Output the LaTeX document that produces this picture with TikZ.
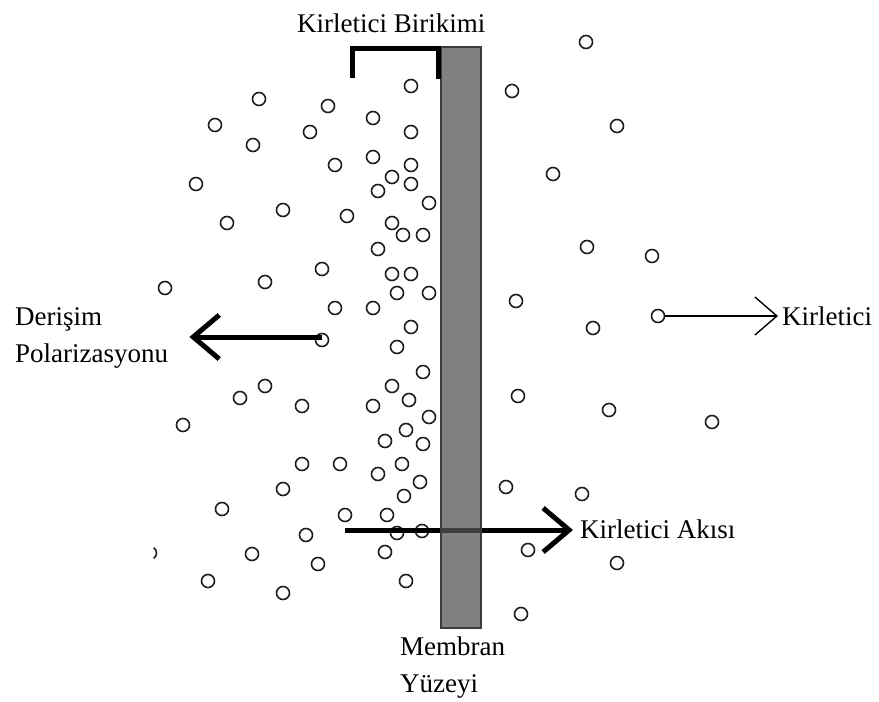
\documentclass[tikz,border=0pt]{standalone}
\usepackage{fontspec}
\setmainfont{Liberation Serif}
\usepackage{xcolor}
\usepackage{tikz}
\usetikzlibrary{arrows.meta}
\definecolor{membranegray}{RGB}{85,85,85}
\definecolor{membraneedge}{RGB}{60,60,60}
\definecolor{particlegray}{RGB}{30,30,30}

\begin{document}
\begin{tikzpicture}[x=1pt, y=-1pt,
  particle/.style={circle, draw=particlegray, line width=1.6pt, minimum size=13pt, inner sep=0pt},
  labeltext/.style={font=\fontsize{27}{36.5}\selectfont, inner sep=4pt, align=left},
  flow/.style={line width=5pt, -{Straight Barb[length=26pt, width=44pt]}},
  thinflow/.style={line width=1.4pt, -{Straight Barb[length=22pt, width=38pt]}}]
  \useasboundingbox (0,0) rectangle (879,702);

  % Labels (base anchor sits on the last line)
  \node[labeltext, anchor=base west] (birikim) at (293,32) {Kirletici Birikimi};
  \node[labeltext, anchor=base west] (derisim) at (11,362) {Derişim\\Polarizasyonu};
  \node[labeltext, anchor=base west] (kirletici) at (778,325) {Kirletici};
  \node[labeltext, anchor=base west] (akis) at (576,538) {Kirletici Akısı};
  \node[labeltext, anchor=base west] (yuzey) at (396,692) {Membran\\Yüzeyi};

  % Particles on the feed side
  \foreach \px/\py [count=\i] in {411/86, 259/99, 328/106, 373/118, 215/125, 310/132, 411/132,
      253/145, 373/157, 335/165, 411/165, 392/177, 411/184, 378/191, 196/184, 429/203,
      283/210, 347/216, 227/223, 392/223, 403/235, 423/235, 378/249, 322/269, 392/274,
      411/274, 165/288, 265/282, 397/293, 429/293, 335/308, 373/308, 411/327, 397/347,
      423/372, 265/386, 240/398, 392/386, 302/406, 373/406, 409/400, 429/417, 183/425,
      406/430, 385/441, 423/444, 302/464, 340/464, 402/464, 378/474, 420/482, 283/489,
      404/496, 222/509, 345/515, 387/515, 306/535, 397/533, 422/531, 252/554, 318/564,
      385/552, 208/581, 283/593, 406/581}
    \node[particle] (f\i) at (\px,\py) {};
  \draw[particlegray, line width=1.6pt] (150,553) ++(-55:6.5) arc[start angle=-55, end angle=55, radius=6.5];

  % Particles on the permeate side
  \foreach \px/\py [count=\i] in {586/42, 512/91, 617/126, 553/174, 587/247, 652/256, 516/301,
      593/328, 518/396, 609/410, 712/422, 506/487, 582/494, 528/550, 617/563, 521/614}
    \node[particle] (r\i) at (\px,\py) {};

  % Particles that start the arrows
  \node[particle] (polsrc) at (322,340) {};
  \node[particle] (kirsrc) at (658,316) {};
  \coordinate (polstart) at (322,337);
  \coordinate (fluxstart) at (345,530);

  % Arrows
  \draw[flow] (polstart) -- ([xshift=17pt]polstart -| derisim.east);
  \draw[thinflow] (kirsrc.east) -- (kirsrc.east -| kirletici.west);
  \draw[flow] (fluxstart) -- ([xshift=-3pt]fluxstart -| akis.west);

  % Membrane
  \draw[fill=membranegray, fill opacity=0.75, draw=membraneedge, line width=1.5pt] (441,47) rectangle (481,628);

  % Accumulation bracket
  \draw[line width=5pt, line join=miter] (352,78) -- (352,48) -- (438,48) -- (438,79);

\end{tikzpicture}
\end{document}
